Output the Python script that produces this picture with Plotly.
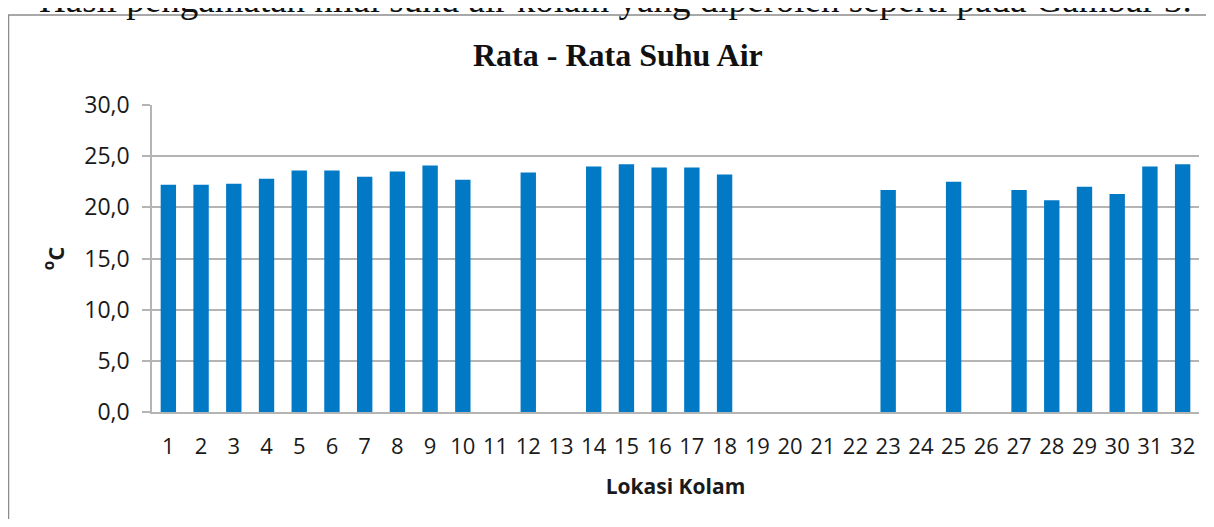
import plotly.graph_objects as go

# ---- data ----
lokasi = [str(i) for i in range(1, 33)]
suhu = [22.2, 22.2, 22.3, 22.8, 23.6, 23.6, 23.0, 23.5, 24.1, 22.7,
        None, 23.4, None, 24.0, 24.2, 23.9, 23.9, 23.2, None, None,
        None, None, 21.7, None, 22.5, None, 21.7, 20.7, 22.0, 21.3,
        24.0, 24.2]
y_ticks = [0, 5, 10, 15, 20, 25, 30]
y_ticktext = ["0,0", "5,0", "10,0", "15,0", "20,0", "25,0", "30,0"]

title_text = "Rata - Rata Suhu Air"
caption_text = "Hasil pengamatan nilai suhu air kolam yang diperoleh seperti pada Gambar 3."

OFF = 8  # default page body margin
W, H = 1214 - 2 * OFF, 527 - 2 * OFF
# plot area in screen pixels: x 152..1199, y 105..412
ML = 152 - OFF
MT = 105 - OFF
MR = W - (1199 - OFF)
MB = H - (412 - OFF)
pw = W - ML - MR
ph = H - MT - MB

def px_x(sx):
    return (sx - OFF - ML) / pw

def px_y(sy):
    return (MT + ph - (sy - OFF)) / ph

fig = go.Figure()
fig.add_trace(go.Bar(x=lokasi, y=suhu, marker=dict(color="#0179C5", line=dict(width=0)),
                     showlegend=False))

grid = "#b4b4b4"
txt = "#1a1a1a"
fig.update_layout(
    width=W, height=H,
    margin=dict(l=ML, r=MR, t=MT, b=MB, autoexpand=False),
    paper_bgcolor="white", plot_bgcolor="white",
    bargap=0.53,
    font=dict(family="Open Sans", color=txt),
    xaxis=dict(type="category", showgrid=False, showline=True, linecolor=grid, linewidth=1.5,
               ticks="", tickfont=dict(family="Open Sans", size=22, color=txt),
               ticklabelstandoff=14, automargin=False,
               title=dict(text="<b>Lokasi Kolam</b>", font=dict(family="Open Sans", size=21, color=txt),
                          standoff=20)),
    yaxis=dict(range=[0, 30], tickvals=y_ticks, ticktext=y_ticktext,
               showgrid=True, gridcolor=grid, gridwidth=1.5,
               showline=True, linecolor=grid, linewidth=1.5,
               ticks="outside", ticklen=8, tickcolor=grid, tickwidth=1.5,
               tickfont=dict(family="Open Sans", size=23, color=txt),
               ticklabelstandoff=8, zeroline=False, automargin=False,
               title=dict(text="<b><sup>o</sup>C</b>", font=dict(family="Open Sans", size=22, color=txt),
                          standoff=14)),
    shapes=[dict(type="rect", xref="paper", yref="paper",
                 x0=px_x(8.5), x1=px_x(1240), y0=px_y(560), y1=px_y(15),
                 line=dict(color="#8c8c8c", width=1.5), fillcolor="rgba(0,0,0,0)", layer="below")],
    annotations=[
        dict(text="<b>" + title_text + "</b>", xref="paper", yref="paper",
             x=px_x(618), y=px_y(55), xanchor="center", yanchor="middle", showarrow=False,
             font=dict(family="Liberation Serif", size=32, color="#111111")),
        dict(text=caption_text, xref="paper", yref="paper",
             x=px_x(37), y=px_y(-1), xanchor="left", yanchor="middle", showarrow=False,
             font=dict(family="Liberation Serif", size=37, color="#111111")),
    ],
)

fig.write_html("out.html")
